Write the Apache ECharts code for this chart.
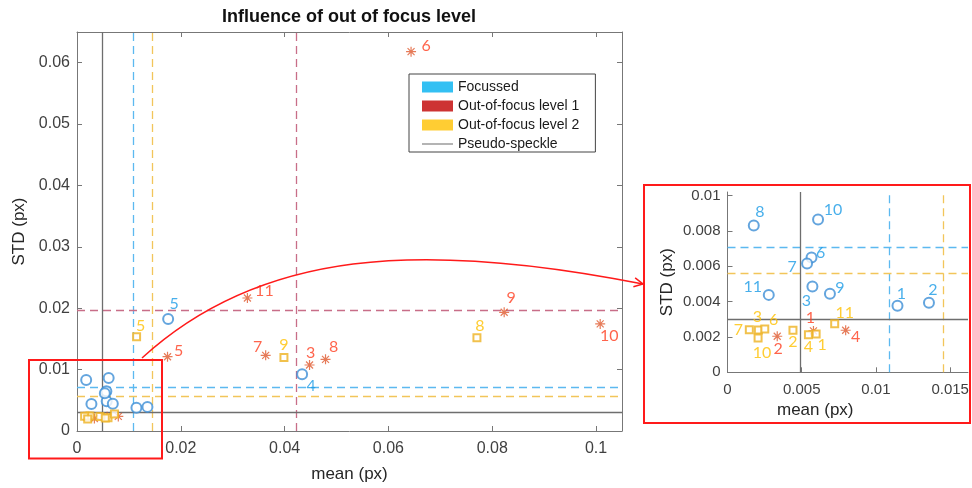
<!DOCTYPE html>
<html><head><meta charset="utf-8">
<script src="https://cdn.jsdelivr.net/npm/echarts@6/dist/echarts.min.js"></script>
<style>html,body{margin:0;padding:0;background:#fff}#c{width:972px;height:488px}</style>
</head><body><div id="c"></div>
<script>
// ---- data ----
const pointIds = ['1','2','3','4','5','6','7','8','9','10','11'];
const focussedMean = [0.01145, 0.01357, 0.00572, 0.04337, 0.01756, 0.00566, 0.00536, 0.00177, 0.00690, 0.00610, 0.00278];
const focussedStd  = [0.00377, 0.00393, 0.00485, 0.00924, 0.01826, 0.00649, 0.00615, 0.00830, 0.00445, 0.00865, 0.00438];
const level1Mean = [0.00579, 0.00335, 0.04480, 0.00796, 0.01744, 0.06436, 0.03635, 0.04788, 0.08230, 0.10080, 0.03283];
const level1Std  = [0.00234, 0.00204, 0.01075, 0.00238, 0.01210, 0.06180, 0.01232, 0.01167, 0.01934, 0.01745, 0.02167];
const level2Mean = [0.00597, 0.00441, 0.00208, 0.00545, 0.01148, 0.00251, 0.00147, 0.07705, 0.03987, 0.00206, 0.00722];
const level2Std  = [0.00217, 0.00238, 0.00240, 0.00213, 0.01535, 0.00245, 0.00241, 0.01518, 0.01199, 0.00194, 0.00275];
const thresholdNames = ['Focussed', 'Out-of-focus level 1', 'Out-of-focus level 2', 'Pseudo-speckle'];
const thresholdMean = [0.0109, 0.0423, 0.0145, 0.0049];
const thresholdStd  = [0.0071, 0.0197, 0.0056, 0.0030];
const mainMeanTicks = [0, 0.02, 0.04, 0.06, 0.08, 0.1];
const mainStdTicks  = [0, 0.01, 0.02, 0.03, 0.04, 0.05, 0.06];
const insetMeanTicks = [0, 0.005, 0.01, 0.015];
const insetStdTicks  = [0, 0.002, 0.004, 0.006, 0.008, 0.01];
const mainMeanMax = 0.105, mainStdMax = 0.065;
const insetMeanMax = 0.0162, insetStdMax = 0.0102;

// ---- styles ----
const FONT = 'Liberation Sans';
const LABEL_FONT = 'Lato';
const AXIS_COLOR = '#777';
const ASTERISK = 'path://M5,0L5,10M0,5L10,5M1.5,1.5L8.5,8.5M8.5,1.5L1.5,8.5';
const LINE_ICON = 'path://M0,0L30,0L30,1L0,1Z';
const groupStyles = [
  { mean: focussedMean, std: focussedStd, symbol: 'emptyCircle', size: 10, color: '#3d8fd6', border: '#3d8fd6', labelColor: '#1a9be6', lineColor: '#5cb9f0', legendColor: '#00B0F0',
    mainOff: { '5': [6, -15], '4': [9, 12] },
    insetOff: { '1': [4, -12], '2': [4, -13], '3': [-6, 14], '6': [9, -5], '7': [-15, 3], '8': [6, -14], '9': [10, -6], '10': [15, -10], '11': [-16, -8] } },
  { mean: level1Mean, std: level1Std, symbol: ASTERISK, size: 10, color: '#e05a30', border: '#e05a30', labelColor: '#ff3d1f', lineColor: '#c86e88', legendColor: '#C00000',
    mainOff: { '6': [15, -6], '11': [17, -7], '5': [11, -6], '7': [-8, -9], '3': [1, -12], '8': [8, -13], '9': [7, -14], '10': [9, 12] },
    insetOff: { '1': [-3, -13], '2': [1, 13], '4': [10, 7] } },
  { mean: level2Mean, std: level2Std, symbol: 'emptyRect', size: 7, color: '#edb120', border: '#edb120', labelColor: '#ffc000', lineColor: '#f2c55a', legendColor: '#FFC000',
    mainOff: { '5': [4, -11], '9': [0, -13], '8': [3, -12] },
    insetOff: { '1': [6, 11], '2': [0, 12], '3': [-1, -13], '4': [0, 12], '6': [9, -9], '7': [-11, 0], '10': [4, 15], '11': [10, -11] } }
];
const PSEUDO_COLOR = '#6e6e6e';

function inInset(x, y) { return x <= insetMeanMax && y <= insetStdMax; }

function markLines(k, inset) {
  const dashed = k < 3;
  const color = dashed ? groupStyles[k].lineColor : PSEUDO_COLOR;
  const ls = { color: color, width: 1.3, type: dashed ? [8, 5] : 'solid', opacity: 1 };
  const d = [];
  if (!inset || thresholdMean[k] <= insetMeanMax) d.push({ xAxis: thresholdMean[k], lineStyle: ls });
  if (!inset || thresholdStd[k] <= insetStdMax) d.push({ yAxis: thresholdStd[k], lineStyle: ls });
  return { silent: true, symbol: 'none', precision: 6, animation: false, label: { show: false }, lineStyle: ls, data: d, z: 2 };
}

const series = [];
groupStyles.forEach((g, k) => {
  const common = {
    type: 'scatter', name: thresholdNames[k], symbol: g.symbol, symbolSize: g.size,
    itemStyle: { color: g.color, borderColor: g.border, borderWidth: 1.2 },
    label: { show: true, position: 'inside', formatter: '{b}', color: g.labelColor, fontFamily: LABEL_FONT, fontSize: 16 },
    emphasis: { disabled: true }, silent: true, z: 5
  };
  const mainData = pointIds.map((id, i) => ({
    name: id, value: [g.mean[i], g.std[i]],
    label: { show: !inInset(g.mean[i], g.std[i]), offset: g.mainOff[id] || [0, 0] }
  }));
  const insetData = pointIds.map((id, i) => ({
    name: id, value: [g.mean[i], g.std[i]],
    label: { show: true, offset: g.insetOff[id] || [0, 0] }
  })).filter(p => inInset(p.value[0], p.value[1]));
  series.push(Object.assign({}, common, { xAxisIndex: 0, yAxisIndex: 0, data: mainData, markLine: markLines(k, false) }));
  series.push(Object.assign({}, common, { xAxisIndex: 2, yAxisIndex: 2, data: insetData, markLine: markLines(k, true) }));
});
series.push({ type: 'line', name: thresholdNames[3], xAxisIndex: 0, yAxisIndex: 0, data: [], symbol: 'none',
  itemStyle: { color: PSEUDO_COLOR }, lineStyle: { color: PSEUDO_COLOR, width: 1 }, markLine: markLines(3, false), silent: true });
series.push({ type: 'line', name: thresholdNames[3], xAxisIndex: 2, yAxisIndex: 2, data: [], symbol: 'none',
  itemStyle: { color: PSEUDO_COLOR }, lineStyle: { color: PSEUDO_COLOR, width: 1 }, markLine: markLines(3, true), silent: true });

function axisBase(extra) {
  return Object.assign({
    type: 'value',
    axisLine: { show: true, onZero: false, lineStyle: { color: AXIS_COLOR, width: 1 } },
    axisTick: { show: true, inside: true, length: 5, lineStyle: { color: AXIS_COLOR } },
    splitLine: { show: false },
    axisLabel: { show: true, color: '#404040', fontFamily: FONT, fontSize: 16, showMaxLabel: false },
    nameTextStyle: { fontFamily: FONT, fontSize: 17, color: '#262626' }
  }, extra);
}
const step = arr => arr[1] - arr[0];

const mainGrid = { left: 77, top: 32, width: 545, height: 400 };
const insetGrid = { left: 727.5, top: 192, width: 240.5, height: 180.3 };

const option = {
  animation: false,
  backgroundColor: '#fff',
  title: { text: 'Influence of out of focus level', left: 222, top: 8, padding: 0,
    textStyle: { fontFamily: FONT, fontSize: 18, fontWeight: 'bold', color: '#111' } },
  grid: [mainGrid, insetGrid],
  xAxis: [
    axisBase({ gridIndex: 0, position: 'bottom', min: mainMeanTicks[0], max: mainMeanMax, interval: step(mainMeanTicks),
      name: 'mean (px)', nameLocation: 'middle', nameGap: 35,
      axisLabel: { show: true, color: '#404040', fontFamily: FONT, fontSize: 16, margin: 10, showMaxLabel: false } }),
    axisBase({ gridIndex: 0, position: 'top', min: mainMeanTicks[0], max: mainMeanMax, interval: step(mainMeanTicks),
      axisLabel: { show: false } }),
    axisBase({ gridIndex: 1, position: 'bottom', min: insetMeanTicks[0], max: insetMeanMax, interval: step(insetMeanTicks),
      name: 'mean (px)', nameLocation: 'middle', nameGap: 30,
      nameTextStyle: { fontFamily: FONT, fontSize: 17, color: '#262626', padding: [0, 65, 0, 0] },
      axisLabel: { show: true, color: '#404040', fontFamily: FONT, fontSize: 15, margin: 10, showMaxLabel: false } })
  ],
  yAxis: [
    axisBase({ gridIndex: 0, position: 'left', min: mainStdTicks[0], max: mainStdMax, interval: step(mainStdTicks),
      name: 'STD (px)', nameLocation: 'middle', nameGap: 43,
      axisLabel: { show: true, color: '#404040', fontFamily: FONT, fontSize: 16, margin: 7, showMaxLabel: false } }),
    axisBase({ gridIndex: 0, position: 'right', min: mainStdTicks[0], max: mainStdMax, interval: step(mainStdTicks),
      axisLabel: { show: false } }),
    axisBase({ gridIndex: 1, position: 'left', min: insetStdTicks[0], max: insetStdMax, interval: step(insetStdTicks),
      name: 'STD (px)', nameLocation: 'middle', nameGap: 52,
      axisLabel: { show: true, color: '#404040', fontFamily: FONT, fontSize: 15, margin: 7, showMaxLabel: false } })
  ],
  legend: {
    left: 409, top: 74, orient: 'vertical', selectedMode: false,
    padding: [6, 16, 1, 13], itemGap: 5, itemWidth: 31, itemHeight: 11,
    backgroundColor: '#fff', borderColor: '#444', borderWidth: 1, borderRadius: 0,
    textStyle: { fontFamily: FONT, fontSize: 14, color: '#1a1a1a' },
    data: [
      { name: thresholdNames[0], icon: 'rect', itemStyle: { color: groupStyles[0].legendColor, borderWidth: 0 } },
      { name: thresholdNames[1], icon: 'rect', itemStyle: { color: groupStyles[1].legendColor, borderWidth: 0 } },
      { name: thresholdNames[2], icon: 'rect', itemStyle: { color: groupStyles[2].legendColor, borderWidth: 0 } },
      { name: thresholdNames[3], icon: LINE_ICON, itemStyle: { color: PSEUDO_COLOR, borderWidth: 0 } }
    ]
  },
  series: series
};

const chart = echarts.init(document.getElementById('c'), null, { renderer: 'canvas' });
chart.setOption(option);

// ---- annotations: zoom boxes and connecting arrow ----
const RED = '#ff1a1a';
const p0 = [142, 358], c1 = [260, 250], c2 = [420, 240], p3 = [643, 284];
const ang = Math.atan2(p3[1] - c2[1], p3[0] - c2[0]);
const headLen = 10, headAng = 27 * Math.PI / 180;
const h1 = [p3[0] - headLen * Math.cos(ang - headAng), p3[1] - headLen * Math.sin(ang - headAng)];
const h2 = [p3[0] - headLen * Math.cos(ang + headAng), p3[1] - headLen * Math.sin(ang + headAng)];
chart.setOption({
  graphic: [
    { type: 'rect', shape: { x: 29, y: 360, width: 133, height: 98.5 }, style: { fill: null, stroke: RED, lineWidth: 2 }, z: 100, silent: true },
    { type: 'rect', shape: { x: 644, y: 185, width: 326, height: 238 }, style: { fill: null, stroke: RED, lineWidth: 2 }, z: 100, silent: true },
    { type: 'bezierCurve', shape: { x1: p0[0], y1: p0[1], cpx1: c1[0], cpy1: c1[1], cpx2: c2[0], cpy2: c2[1], x2: p3[0], y2: p3[1] },
      style: { fill: null, stroke: RED, lineWidth: 1.5 }, z: 100, silent: true },
    { type: 'polyline', shape: { points: [h1, p3, h2] }, style: { fill: null, stroke: RED, lineWidth: 1.5 }, z: 100, silent: true }
  ]
});
</script>
</body></html>
